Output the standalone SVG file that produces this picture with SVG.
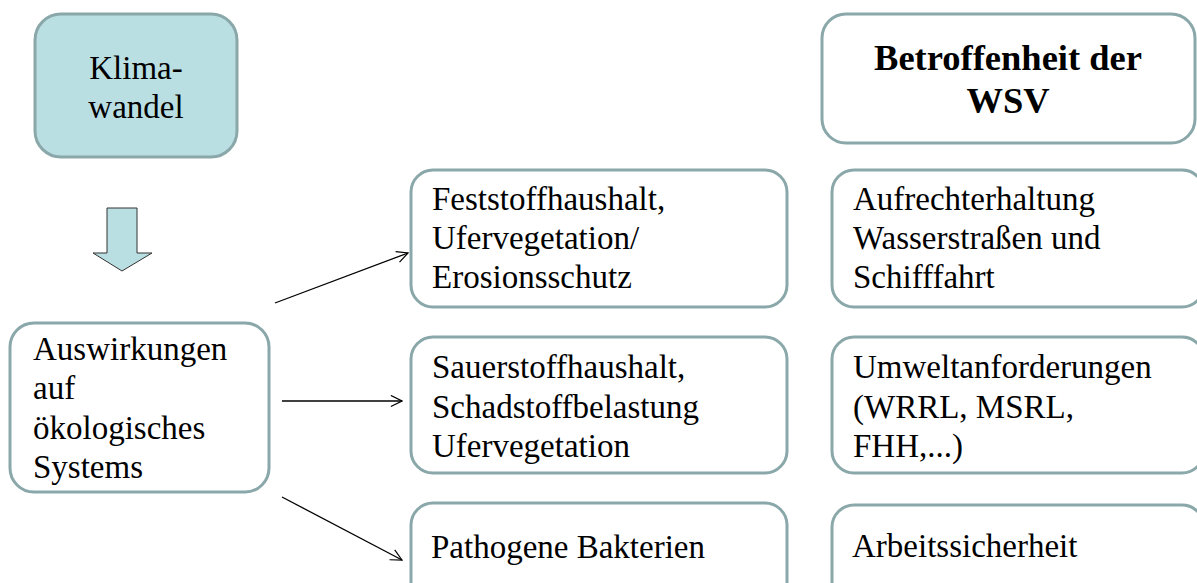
<svg xmlns="http://www.w3.org/2000/svg" width="1197" height="583" viewBox="0 0 1197 583">
<style>
.box{fill:#ffffff;stroke:#8aa7a9;stroke-width:3}
.fill{fill:#b9dfe3}
.t{font-family:"Liberation Serif","Times New Roman",serif;font-size:33px;fill:#000}
.b{font-weight:bold;font-size:36.5px}
.c{text-anchor:middle}
.con{stroke:#000;stroke-width:1.3;fill:none}
</style>
<defs>
<marker id="ah" viewBox="0 0 14 14" refX="13" refY="7" markerWidth="13" markerHeight="13" markerUnits="userSpaceOnUse" orient="auto">
<path d="M1,1 L13,7 L1,13" fill="none" stroke="#000" stroke-width="1.3"/>
</marker>
</defs>
<rect width="1197" height="583" fill="#ffffff"/>
<g id="klimawandel">
<rect class="box fill" x="35" y="14" width="202" height="143" rx="26"/>
<text class="t c" x="136" y="79">Klima-</text>
<text class="t c" x="136" y="118">wandel</text>
</g>
<g id="betroffenheit">
<rect class="box" x="822" y="14" width="373" height="129" rx="24"/>
<text class="t b c" x="1008" y="70">Betroffenheit der</text>
<text class="t b c" x="1008" y="113">WSV</text>
</g>
<g id="blockarrow">
<path d="M107,208 H137 V253 H152 L122,271 L93,253 H107 Z" fill="#b9dfe3" stroke="#333" stroke-width="1"/>
</g>
<g id="auswirkungen">
<rect class="box" x="10" y="323" width="259" height="169" rx="24"/>
<text class="t" x="33" y="360">Auswirkungen</text>
<text class="t" x="33" y="399">auf</text>
<text class="t" x="33" y="439">ökologisches</text>
<text class="t" x="33" y="478">Systems</text>
</g>
<g id="feststoff">
<rect class="box" x="411" y="170" width="376" height="137" rx="22"/>
<text class="t" x="432" y="210">Feststoffhaushalt,</text>
<text class="t" x="432" y="249">Ufervegetation/</text>
<text class="t" x="432" y="288">Erosionsschutz</text>
</g>
<g id="sauerstoff">
<rect class="box" x="411" y="337" width="376" height="136" rx="22"/>
<text class="t" x="432" y="378">Sauerstoffhaushalt,</text>
<text class="t" x="432" y="418">Schadstoffbelastung</text>
<text class="t" x="432" y="457">Ufervegetation</text>
</g>
<g id="pathogene">
<rect class="box" x="411" y="503" width="376" height="110" rx="22"/>
<text class="t" x="431" y="558">Pathogene Bakterien</text>
</g>
<g id="aufrechterhaltung">
<rect class="box" x="832" y="170" width="372" height="137" rx="22"/>
<text class="t" x="853" y="210">Aufrechterhaltung</text>
<text class="t" x="853" y="249">Wasserstraßen und</text>
<text class="t" x="853" y="288">Schifffahrt</text>
</g>
<g id="umwelt">
<rect class="box" x="832" y="337" width="372" height="136" rx="22"/>
<text class="t" x="853" y="378">Umweltanforderungen</text>
<text class="t" x="853" y="418">(WRRL, MSRL,</text>
<text class="t" x="853" y="457">FHH,...)</text>
</g>
<g id="arbeit">
<rect class="box" x="832" y="505" width="372" height="110" rx="22"/>
<text class="t" x="852" y="557">Arbeitssicherheit</text>
</g>
<g id="connectors">
<line class="con" x1="275" y1="303" x2="408" y2="253" marker-end="url(#ah)"/>
<line class="con" x1="282" y1="401" x2="402" y2="401" marker-end="url(#ah)"/>
<line class="con" x1="282" y1="497" x2="402" y2="560" marker-end="url(#ah)"/>
</g>
</svg>
